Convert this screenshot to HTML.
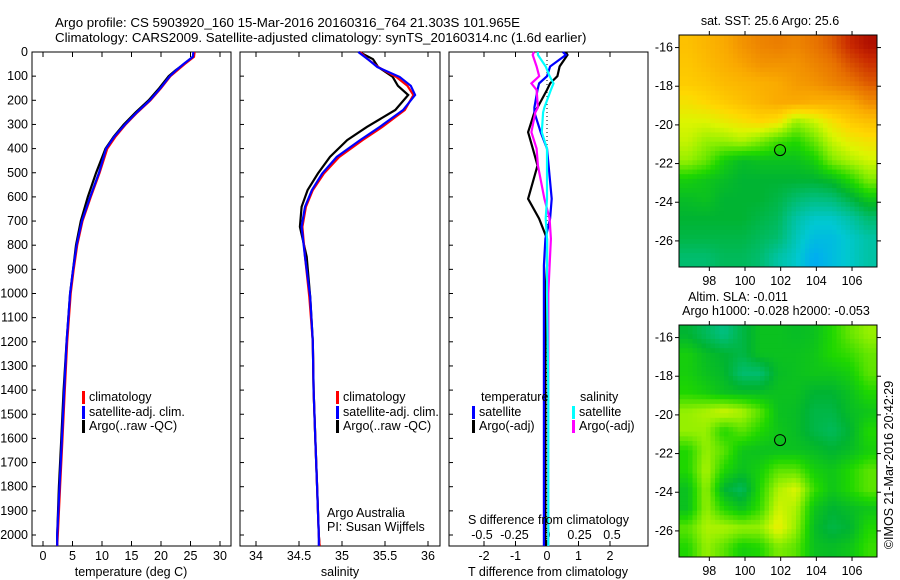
<!DOCTYPE html>
<html><head><meta charset="utf-8"><style>
body{margin:0;background:#fff;}
svg{display:block;font-family:"Liberation Sans",sans-serif;}
text{font-size:12.5px;fill:#000;}
.title{font-size:13.3px;}
</style></head><body>
<svg id="fig" width="900" height="580">
<text class="title" x="55" y="27">Argo profile: CS 5903920_160 15-Mar-2016 20160316_764 21.303S 101.965E</text>
<text class="title" x="55" y="42">Climatology: CARS2009. Satellite-adjusted climatology: synTS_20160314.nc (1.6d earlier)</text>
<g id="g"></g>
</svg>
<script>
// ---- data ----
const tDepth=[0,20,50,75,100,150,200,250,300,350,400,500,600,700,800,900,1000,1200,1400,1600,1800,2000,2045];
const tClim=[25.7,25.6,24.0,22.8,21.6,20.0,18.2,16.0,14.0,12.3,10.9,9.6,8.1,6.7,5.8,5.2,4.7,4.1,3.7,3.3,2.9,2.5,2.4];
const tSat=[25.5,25.4,23.8,22.6,21.5,19.9,18.1,15.9,13.9,12.1,10.7,9.5,8.0,6.6,5.7,5.1,4.6,4.0,3.6,3.2,2.8,2.4,2.4];
const tArgo=[25.6,25.4,23.9,22.5,21.3,19.7,17.9,15.7,13.7,12.0,10.6,9.0,7.6,6.4,5.6,5.1,4.6,4.0,3.5,3.1,2.7,2.4,2.4];
const sDepth=[0,30,62,103,140,178,240,310,365,434,503,572,641,724,848,1014,1200,1400,1600,1800,2000,2045];
const sClim=[35.21,35.30,35.42,35.63,35.76,35.83,35.73,35.47,35.24,34.97,34.79,34.66,34.58,34.54,34.57,34.62,34.66,34.67,34.69,34.71,34.73,34.74];
const sSat=[35.19,35.30,35.41,35.67,35.80,35.85,35.71,35.44,35.21,34.94,34.77,34.65,34.57,34.53,34.57,34.63,34.66,34.67,34.69,34.71,34.73,34.73];
const sArgo=[35.2,35.36,35.42,35.59,35.65,35.77,35.62,35.29,35.06,34.86,34.72,34.6,34.53,34.51,34.59,34.63,34.66,34.67,34.69,34.71,34.73,34.74];
const dDepth=[0,12,60,100,130,157,230,250,332,400,470,608,690,773,884,1000,1400,1800,2045];
const dTsat=[0.5,0.6,0.1,0.0,-0.25,-0.3,-0.4,-0.4,-0.2,0.0,0.05,0.15,0.1,-0.05,-0.1,-0.1,-0.1,-0.1,-0.1];
const dTargo=[0.6,0.65,0.4,0.33,0.1,0.0,-0.3,-0.4,-0.6,-0.45,-0.3,-0.6,-0.25,0.0,0.0,-0.05,-0.05,-0.05,-0.05];
const dSsat=[-0.07,-0.07,-0.01,0.02,0.05,0.03,-0.02,-0.03,-0.04,0.0,0.0,0.0,-0.01,0.0,0.0,0.0,0.01,0.01,0.01];
const dSargo=[-0.1,-0.11,-0.08,-0.06,-0.12,-0.08,-0.07,-0.09,-0.12,-0.08,-0.07,-0.02,0.02,0.03,0.02,0.01,0.01,0.01,0.01];
const sstGrid=[
[0.76,0.78,0.8,0.83,0.85,0.86,0.85,0.87,0.9,0.95,0.98],
[0.75,0.77,0.79,0.81,0.83,0.83,0.83,0.85,0.87,0.91,0.94],
[0.74,0.75,0.77,0.78,0.79,0.8,0.82,0.83,0.85,0.87,0.9],
[0.7,0.72,0.74,0.76,0.78,0.8,0.8,0.79,0.79,0.8,0.84],
[0.66,0.66,0.68,0.7,0.72,0.7,0.6,0.64,0.7,0.74,0.76],
[0.64,0.6,0.6,0.62,0.58,0.53,0.5,0.56,0.64,0.68,0.7],
[0.6,0.56,0.48,0.44,0.45,0.45,0.45,0.48,0.58,0.62,0.65],
[0.48,0.46,0.44,0.42,0.42,0.42,0.42,0.42,0.44,0.5,0.58],
[0.44,0.45,0.42,0.42,0.42,0.4,0.36,0.34,0.35,0.4,0.46],
[0.42,0.42,0.42,0.42,0.4,0.38,0.3,0.26,0.26,0.3,0.36],
[0.4,0.4,0.4,0.4,0.38,0.36,0.28,0.22,0.22,0.26,0.3],
[0.36,0.36,0.38,0.38,0.36,0.3,0.26,0.18,0.22,0.26,0.3]];
const slaGrid=[
[0.42,0.38,0.34,0.4,0.45,0.45,0.44,0.45,0.5,0.56,0.6],
[0.48,0.44,0.42,0.4,0.45,0.45,0.45,0.46,0.5,0.52,0.56],
[0.48,0.45,0.43,0.36,0.36,0.44,0.45,0.46,0.46,0.48,0.55],
[0.5,0.48,0.45,0.44,0.44,0.45,0.45,0.42,0.42,0.45,0.5],
[0.6,0.62,0.65,0.62,0.55,0.45,0.44,0.4,0.4,0.44,0.46],
[0.6,0.6,0.5,0.55,0.5,0.46,0.44,0.4,0.38,0.42,0.5],
[0.5,0.6,0.55,0.46,0.45,0.45,0.45,0.44,0.42,0.44,0.48],
[0.5,0.62,0.5,0.45,0.48,0.55,0.55,0.48,0.46,0.5,0.55],
[0.45,0.6,0.42,0.38,0.5,0.62,0.66,0.52,0.46,0.5,0.55],
[0.45,0.6,0.5,0.45,0.52,0.65,0.62,0.46,0.42,0.44,0.46],
[0.55,0.62,0.62,0.6,0.6,0.68,0.6,0.44,0.4,0.42,0.5],
[0.5,0.6,0.55,0.48,0.5,0.58,0.55,0.45,0.44,0.46,0.52]];
const tTicks=[0,5,10,15,20,25,30];
const sTicks=[34,34.5,35,35.5,36];
const dTicks=[-2,-1,0,1,2];
const dsTicks=[-0.5,-0.25,0,0.25,0.5];
const depthTicks=[0,100,200,300,400,500,600,700,800,900,1000,1100,1200,1300,1400,1500,1600,1700,1800,1900,2000];
const lonTicks=[98,100,102,104,106];
const latTicks=[-16,-18,-20,-22,-24,-26];
const argoLon=101.965, argoLat=-21.303;

// ---- drawing ----
const NS='http://www.w3.org/2000/svg';
const G=document.getElementById('g');
function el(tag,attrs,parent){const e=document.createElementNS(NS,tag);for(const k in attrs)e.setAttribute(k,attrs[k]);(parent||G).appendChild(e);return e;}
function txt(x,y,s,anchor,parent){const t=el('text',{x:x,y:y,'text-anchor':anchor||'start'},parent);t.textContent=s;return t;}
const TOP=52,BOT=546;
const yD=d=>TOP+d*0.2415;
function lin(d0,d1,p0,p1){return v=>p0+(v-d0)*(p1-p0)/(d1-d0);}
const xT=lin(0,30,43,220), xS=lin(34,36,256,428), xDT=lin(0,1,547,578.5), xDS=lin(0,0.25,547,579.5);
const panels=[[32,231],[240,440],[449,648]];

function profile(depths,vals,xf,color,name){
  const p=depths.map((d,i)=>xf(vals[i]).toFixed(1)+','+yD(d).toFixed(1)).join(' ');
  const l=el('polyline',{points:p,fill:'none',stroke:color,'stroke-width':2.2});
  
  
}
panels.forEach((p,i)=>{
  const r=el('rect',{x:p[0],y:TOP,width:p[1]-p[0],height:BOT-TOP,fill:'none',stroke:'#000','stroke-width':1});
  
  
  depthTicks.forEach(d=>{el('line',{x1:p[0],x2:p[0]+4,y1:yD(d),y2:yD(d),stroke:'#000'});});
});
depthTicks.forEach(d=>{const t=txt(28,yD(d)+4,String(d),'end');});
function xticks(ticks,xf,labels){
  ticks.forEach(v=>{const x=xf(v);
    el('line',{x1:x,x2:x,y1:TOP,y2:TOP+5,stroke:'#000'});
    el('line',{x1:x,x2:x,y1:BOT,y2:BOT-5,stroke:'#000'});
    if(labels){const t=txt(x,560,String(v),'middle');}
  });
}
xticks(tTicks,xT,true);
xticks(sTicks,xS,true);
xticks(dTicks,xDT,true);
dsTicks.forEach(v=>{const t=txt(xDS(v),539,String(v),'middle');});
[['temperature (deg C)',131],['salinity',340],['T difference from climatology',548]].forEach(a=>{const t=txt(a[1],576,a[0],'middle');});
el('line',{x1:547,x2:547,y1:TOP,y2:BOT,stroke:'#000','stroke-dasharray':'1,3'});

profile(tDepth,tArgo,xT,'#000','temp-argo-line');
profile(tDepth,tClim,xT,'#f00','temp-clim-line');
profile(tDepth,tSat,xT,'#00f','temp-sat-line');
profile(sDepth,sArgo,xS,'#000','sal-argo-line');
profile(sDepth,sClim,xS,'#f00','sal-clim-line');
profile(sDepth,sSat,xS,'#00f','sal-sat-line');
profile(dDepth,dTargo,xDT,'#000','tdiff-argo-line');
profile(dDepth,dTsat,xDT,'#00f','tdiff-sat-line');
profile(dDepth,dSargo,xDS,'#f0f','sdiff-argo-line');
profile(dDepth,dSsat,xDS,'#0ff','sdiff-sat-line');

function legend(x,y,color,label){
  const g=el('g',{});
  
  
  el('rect',{x:x,y:y-10,width:3,height:13,fill:color},g);
  txt(x+7,y,label,'start',g);
}
[[82,'#f00','climatology',401],[82,'#00f','satellite-adj. clim.',416],[82,'#000','Argo(..raw -QC)',430]].forEach(a=>legend(a[0],a[3],a[1],a[2]));
[[336,'#f00','climatology',401],[336,'#00f','satellite-adj. clim.',416],[336,'#000','Argo(..raw -QC)',430]].forEach(a=>legend(a[0],a[3],a[1],a[2]));
txt(481,401,'temperature');txt(580,401,'salinity');
legend(472,416,'#00f','satellite');legend(472,430,'#000','Argo(-adj)');
legend(572,416,'#0ff','satellite');legend(572,430,'#f0f','Argo(-adj)');
txt(327,517,'Argo Australia');txt(327,531,'PI: Susan Wijffels');
txt(468,524,'S difference from climatology');

// ---- maps ----
function cmap(v){
  const st=[[0,[0,60,255]],[0.15,[0,160,255]],[0.25,[0,200,210]],[0.35,[0,190,120]],[0.42,[0,180,50]],[0.5,[30,215,0]],[0.6,[150,240,0]],[0.66,[220,245,0]],[0.72,[255,215,0]],[0.8,[250,170,0]],[0.88,[230,110,0]],[0.95,[200,40,0]],[1,[160,0,0]]];
  for(let i=1;i<st.length;i++){if(v<=st[i][0]){const a=st[i-1],b=st[i],f=(v-a[0])/(b[0]-a[0]);return 'rgb('+a[1].map((c,k)=>Math.round(c+(b[1][k]-c)*f)).join(',')+')';}}
  return 'rgb(160,0,0)';
}
function sample(grid,fy,fx){
  const R=grid.length-1,C=grid[0].length-1;
  let y=Math.max(0,Math.min(R,fy)),x=Math.max(0,Math.min(C,fx));
  const y0=Math.floor(y),x0=Math.floor(x),y1=Math.min(R,y0+1),x1=Math.min(C,x0+1),a=y-y0,b=x-x0;
  return grid[y0][x0]*(1-a)*(1-b)+grid[y0][x1]*(1-a)*b+grid[y1][x0]*a*(1-b)+grid[y1][x1]*a*b;
}
function map(grid,top,bot,name){
  const L=679,R=877,lon0=96.3,lon1=107.4,lat0=-15.35,lat1=-27.35;
  const xl=lin(lon0,lon1,L,R), yl=lin(lat0,lat1,top,bot);
  const g=el('g',{});
  
  
  const rows=grid.length,cols=grid[0].length,N=44,M=50,cw=(R-L)/N,ch=(bot-top)/M;
  for(let i=0;i<M;i++)for(let j=0;j<N;j++){
    const v=sample(grid,(i+0.5)/M*rows-0.5,(j+0.5)/N*cols-0.5);
    el('rect',{x:(L+j*cw).toFixed(2),y:(top+i*ch).toFixed(2),width:(cw+0.5).toFixed(2),height:(ch+0.5).toFixed(2),fill:cmap(v)},g);
  }
  el('rect',{x:L,y:top,width:R-L,height:bot-top,fill:'none',stroke:'#000'},g);
  lonTicks.forEach(v=>{const x=xl(v);el('line',{x1:x,x2:x,y1:top,y2:top-4,stroke:'#000'},g);el('line',{x1:x,x2:x,y1:bot,y2:bot+4,stroke:'#000'},g);txt(x,bot+18,String(v),'middle',g);});
  latTicks.forEach(v=>{const y=yl(v);el('line',{x1:L,x2:L-4,y1:y,y2:y,stroke:'#000'},g);el('line',{x1:R,x2:R+4,y1:y,y2:y,stroke:'#000'},g);txt(L-6,y+4,String(v),'end',g);});
  const m=el('circle',{cx:xl(argoLon),cy:yl(argoLat),r:5.5,fill:'none',stroke:'#000','stroke-width':1},g);
  
  
}
map(sstGrid,35,267,'sst-map');
map(slaGrid,325,557,'sla-map');
txt(770,25,'sat. SST: 25.6  Argo: 25.6','middle');
txt(738,301,'Altim. SLA: -0.011','middle');
txt(776,315,'Argo h1000: -0.028 h2000: -0.053','middle');
const cr=txt(0,0,'\u00a9IMOS 21-Mar-2016 20:42:29','middle');
cr.setAttribute('transform','translate(893,465) rotate(-90)');


</script>
</body></html>
